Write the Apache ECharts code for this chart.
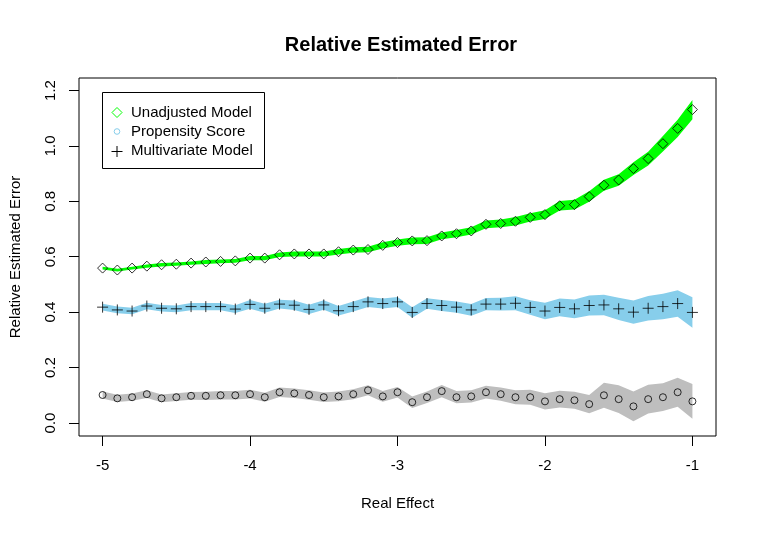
<!DOCTYPE html>
<html>
<head>
<meta charset="utf-8">
<title>Relative Estimated Error</title>
<script src="https://cdn.jsdelivr.net/npm/echarts@6/dist/echarts.min.js"></script>
<style>
  html, body { margin: 0; padding: 0; background: #fff; }
  #chart { width: 757px; height: 534px; }
</style>
</head>
<body>
<div id="chart"></div>
<script>
// real effect (x)
var realEffect = [-5.0, -4.9, -4.8, -4.7, -4.6, -4.5, -4.4, -4.3, -4.2, -4.1,
  -4.0, -3.9, -3.8, -3.7, -3.6, -3.5, -3.4, -3.3, -3.2, -3.1,
  -3.0, -2.9, -2.8, -2.7, -2.6, -2.5, -2.4, -2.3, -2.2, -2.1,
  -2.0, -1.9, -1.8, -1.7, -1.6, -1.5, -1.4, -1.3, -1.2, -1.1, -1.0];

// unadjusted model (diamonds, green band)
var unadjusted = [0.559, 0.552, 0.559, 0.566, 0.571, 0.573, 0.577, 0.581, 0.583, 0.585,
  0.595, 0.595, 0.607, 0.610, 0.610, 0.610, 0.618, 0.624, 0.626, 0.641,
  0.651, 0.657, 0.658, 0.675, 0.683, 0.693, 0.717, 0.720, 0.728, 0.742,
  0.752, 0.784, 0.788, 0.817, 0.858, 0.877, 0.918, 0.954, 1.008, 1.063, 1.131];
var unadjustedHw = [0.005, 0.005, 0.005, 0.006, 0.006, 0.006, 0.006, 0.007, 0.007, 0.007,
  0.008, 0.008, 0.008, 0.009, 0.009, 0.009, 0.010, 0.010, 0.010, 0.011,
  0.011, 0.012, 0.012, 0.012, 0.013, 0.013, 0.014, 0.014, 0.015, 0.015,
  0.016, 0.017, 0.018, 0.019, 0.020, 0.021, 0.023, 0.025, 0.028, 0.031, 0.035];

// multivariate model (plus, skyblue band)
var multivariate = [0.418, 0.408, 0.404, 0.422, 0.414, 0.412, 0.420, 0.420, 0.420, 0.411,
  0.428, 0.414, 0.429, 0.425, 0.410, 0.426, 0.405, 0.420, 0.437, 0.431,
  0.437, 0.399, 0.431, 0.424, 0.418, 0.408, 0.429, 0.429, 0.432, 0.417,
  0.404, 0.417, 0.412, 0.424, 0.426, 0.412, 0.400, 0.414, 0.420, 0.431, 0.399];
var multivariateHw = [0.012, 0.012, 0.012, 0.012, 0.012, 0.012, 0.013, 0.013, 0.013, 0.014,
  0.016, 0.016, 0.016, 0.017, 0.017, 0.017, 0.017, 0.018, 0.018, 0.018,
  0.018, 0.019, 0.019, 0.020, 0.020, 0.021, 0.022, 0.023, 0.025, 0.026,
  0.030, 0.032, 0.034, 0.036, 0.037, 0.040, 0.042, 0.044, 0.046, 0.048, 0.055];

// propensity score (circles, gray band)
var propensity = [0.101, 0.089, 0.093, 0.104, 0.089, 0.093, 0.098, 0.098, 0.100, 0.100,
  0.104, 0.093, 0.111, 0.107, 0.101, 0.093, 0.096, 0.104, 0.118, 0.096,
  0.111, 0.075, 0.093, 0.115, 0.093, 0.096, 0.111, 0.104, 0.093, 0.093,
  0.078, 0.086, 0.082, 0.068, 0.100, 0.086, 0.060, 0.086, 0.093, 0.111, 0.078];
var propensityHw = [0.013, 0.013, 0.013, 0.014, 0.014, 0.014, 0.014, 0.015, 0.015, 0.015,
  0.016, 0.016, 0.017, 0.017, 0.017, 0.017, 0.018, 0.018, 0.018, 0.019,
  0.019, 0.021, 0.021, 0.022, 0.022, 0.022, 0.023, 0.024, 0.025, 0.027,
  0.029, 0.030, 0.031, 0.033, 0.045, 0.050, 0.054, 0.052, 0.050, 0.052, 0.063];

var xTicks = [-5, -4, -3, -2, -1];
var yTicks = [0, 0.2, 0.4, 0.6, 0.8, 1.0, 1.2];

var FONT = 'Liberation Sans, Arial, sans-serif';

function pairs(ys) {
  return realEffect.map(function (x, i) { return [x, ys[i]]; });
}

// shaded band between value-hw and value+hw, drawn as one polygon
function band(ys, hw, color) {
  var data = realEffect.map(function (x, i) { return [x, ys[i] - hw[i], ys[i] + hw[i]]; });
  return {
    type: 'custom', silent: true, z: 1,
    encode: { x: 0, y: [1, 2] },
    data: data,
    renderItem: function (params, api) {
      if (params.dataIndex !== 0) return null;
      var top = [], bottom = [];
      for (var i = 0; i < data.length; i++) {
        top.push(api.coord([data[i][0], data[i][2]]));
        bottom.unshift(api.coord([data[i][0], data[i][1]]));
      }
      return {
        type: 'polygon',
        shape: { points: top.concat(bottom) },
        style: { fill: color, stroke: null }
      };
    }
  };
}

function markers(name, ys, symbol, size) {
  return {
    name: name, type: 'scatter', data: pairs(ys), symbol: symbol, symbolSize: size,
    itemStyle: { color: 'rgba(0,0,0,0)', borderColor: '#000', borderWidth: 1 },
    emphasis: { disabled: true }, z: 3
  };
}

var chart = echarts.init(document.getElementById('chart'));

var series = [
  band(unadjusted, unadjustedHw, '#00ff00'),
  band(multivariate, multivariateHw, '#87ceeb'),
  band(propensity, propensityHw, '#bebebe'),
  markers('Unadjusted Model', unadjusted, 'diamond', 10),
  markers('Multivariate Model', multivariate, 'path://M0,5H10M5,0V10', 11),
  markers('Propensity Score', propensity, 'circle', 7)
];

var option = {
  animation: false,
  backgroundColor: '#fff',
  title: {
    text: 'Relative Estimated Error',
    left: 396, top: 30, textAlign: 'center',
    textStyle: { fontFamily: FONT, fontSize: 20, fontWeight: 'bold', color: '#000' }
  },
  grid: {
    left: 78, right: 41, top: 78, bottom: 98,
    show: true, borderColor: '#000', borderWidth: 1, backgroundColor: 'transparent'
  },
  xAxis: {
    type: 'value', min: -5.16, max: -0.84,
    name: 'Real Effect', nameLocation: 'middle', nameGap: 60,
    nameTextStyle: { fontFamily: FONT, fontSize: 15, color: '#000' },
    axisLine: { show: false, onZero: false },
    splitLine: { show: false },
    axisTick: { show: true, inside: false, length: 10, customValues: xTicks,
      lineStyle: { color: '#000', width: 1 } },
    axisLabel: { customValues: xTicks, margin: 22, fontFamily: FONT, fontSize: 15, color: '#000',
      formatter: function (v) { return String(v); } }
  },
  yAxis: {
    type: 'value', min: -0.047, max: 1.245,
    name: 'Relative Estimated Error', nameLocation: 'middle', nameGap: 56,
    nameTextStyle: { fontFamily: FONT, fontSize: 15, color: '#000' },
    axisLine: { show: false, onZero: false },
    splitLine: { show: false },
    axisTick: { show: true, inside: false, length: 10, customValues: yTicks,
      lineStyle: { color: '#000', width: 1 } },
    axisLabel: { customValues: yTicks, rotate: 90, margin: 21, fontFamily: FONT, fontSize: 15, color: '#000',
      formatter: function (v) { return v.toFixed(1); } }
  },
  graphic: [
    { type: 'rect', shape: { x: 102.5, y: 92.5, width: 162, height: 76 },
      style: { fill: '#fff', stroke: '#000', lineWidth: 1 }, z: 10 },
    { type: 'polygon', shape: { points: [[117, 107.5], [122, 112.5], [117, 117.5], [112, 112.5]] },
      style: { fill: 'none', stroke: '#00ff00', lineWidth: 1 }, z: 11 },
    { type: 'circle', shape: { cx: 117, cy: 131.5, r: 2.8 },
      style: { fill: 'none', stroke: '#87ceeb', lineWidth: 1 }, z: 11 },
    { type: 'line', shape: { x1: 111.5, y1: 151.5, x2: 122.5, y2: 151.5 },
      style: { stroke: '#000', lineWidth: 1 }, z: 11 },
    { type: 'line', shape: { x1: 117, y1: 146, x2: 117, y2: 157 },
      style: { stroke: '#000', lineWidth: 1 }, z: 11 },
    { type: 'text', x: 131, y: 112.5, z: 11,
      style: { text: 'Unadjusted Model', fill: '#000', font: '15px ' + FONT, verticalAlign: 'middle' } },
    { type: 'text', x: 131, y: 131.5, z: 11,
      style: { text: 'Propensity Score', fill: '#000', font: '15px ' + FONT, verticalAlign: 'middle' } },
    { type: 'text', x: 131, y: 151, z: 11,
      style: { text: 'Multivariate Model', fill: '#000', font: '15px ' + FONT, verticalAlign: 'middle' } }
  ],
  series: series
};

chart.setOption(option);
</script>
</body>
</html>
